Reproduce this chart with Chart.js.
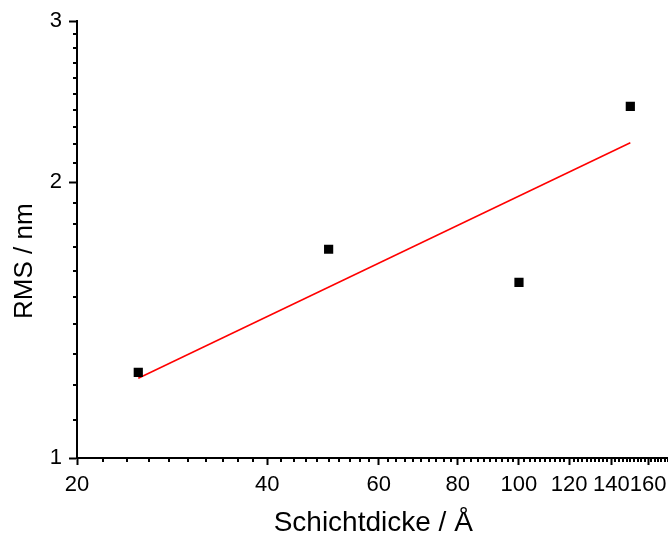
<!DOCTYPE html>
<html>
<head>
<meta charset="utf-8">
<script src="https://cdn.jsdelivr.net/npm/chart.js@4"></script>
<style>
  html, body { margin: 0; padding: 0; background: #fff; overflow: hidden; }
  canvas { display: block; }
</style>
</head>
<body>
<!-- a bit wider than the window: the original plot is cut off at the right edge -->
<canvas id="rmsChart" width="676" height="538"></canvas>
<script>
// Schichtdicke (Angstrom) vs. RMS roughness (nm)
const thickness = [25, 50, 100, 150];
const rms = [1.24, 1.69, 1.555, 2.42];

// linear fit in log-log, start and end point
const fitThickness = [25, 150];
const fitRms = [1.222, 2.209];

const xTicks = [20, 40, 60, 80, 100, 120, 140, 160];
const yTicks = [1, 2, 3];

// minor ticks: every 2 A on x, every 0.1 nm on y
const xMinor = [];
for (let v = 22; v <= 172; v += 2) if (!xTicks.includes(v)) xMinor.push(v);
const yMinor = [];
for (let i = 11; i < 30; i++) if (i % 10) yMinor.push(i / 10);

const font = "'Liberation Sans', Arial, sans-serif";

const minorTicks = {
  id: "minorTicks",
  afterDraw(chart) {
    const ctx = chart.ctx;
    const x = chart.scales.x, y = chart.scales.y;
    const area = chart.chartArea;
    ctx.save();
    ctx.strokeStyle = "#000";
    ctx.lineWidth = 2;
    ctx.beginPath();
    xMinor.forEach(v => {
      const px = Math.round(x.getPixelForValue(v));
      if (px <= area.left || px > area.right) return;
      ctx.moveTo(px, area.bottom);
      ctx.lineTo(px, area.bottom + 4);
    });
    yMinor.forEach(v => {
      const py = Math.round(y.getPixelForValue(v));
      ctx.moveTo(area.left, py);
      ctx.lineTo(area.left - 4, py);
    });
    ctx.stroke();
    ctx.restore();
  }
};

new Chart(document.getElementById("rmsChart"), {
  type: "scatter",
  data: {
    datasets: [{
      label: "RMS",
      data: thickness.map((t, i) => ({ x: t, y: rms[i] })),
      pointStyle: "rect",
      pointRadius: 6.5,
      pointBorderWidth: 0,
      backgroundColor: "#000",
      borderColor: "#000",
      order: 1
    }, {
      label: "Fit",
      type: "line",
      data: fitThickness.map((t, i) => ({ x: t, y: fitRms[i] })),
      borderColor: "#ff0000",
      borderWidth: 1.5,
      pointRadius: 0,
      fill: false,
      order: 2
    }]
  },
  options: {
    responsive: false,
    animation: false,
    layout: { padding: { top: 21, right: 0, left: 0, bottom: 0 } },
    plugins: {
      legend: { display: false },
      tooltip: { enabled: false }
    },
    scales: {
      x: {
        type: "logarithmic",
        min: 20,
        max: 173,
        afterBuildTicks: s => { s.ticks = xTicks.map(v => ({ value: v })); },
        afterFit: s => { s.height = 80; s.paddingLeft = 0; s.paddingRight = 0; },
        ticks: {
          autoSkip: false,
          maxRotation: 0,
          padding: 7,
          color: "#000",
          font: { family: font, size: 22 },
          callback: v => String(v)
        },
        grid: { drawOnChartArea: false, tickLength: 7, tickWidth: 2, tickColor: "#000" },
        border: { display: true, color: "#000", width: 2 },
        title: {
          display: true,
          text: "Schichtdicke / Å",
          color: "#000",
          font: { family: font, size: 28, lineHeight: 1.05 },
          padding: { top: 0, bottom: 0 }
        }
      },
      y: {
        type: "logarithmic",
        min: 1,
        max: 3,
        afterBuildTicks: s => { s.ticks = yTicks.map(v => ({ value: v })); },
        afterFit: s => { s.width = 77; },
        ticks: {
          padding: 7,
          color: "#000",
          font: { family: font, size: 22 },
          callback: v => String(v)
        },
        grid: { drawOnChartArea: false, tickLength: 8, tickWidth: 2, tickColor: "#000" },
        border: { display: true, color: "#000", width: 2 },
        title: {
          display: true,
          text: "RMS / nm      ",
          color: "#000",
          font: { family: font, size: 26 },
          padding: { top: 9, bottom: 0 }
        }
      }
    }
  },
  plugins: [minorTicks]
});
</script>
</body>
</html>
